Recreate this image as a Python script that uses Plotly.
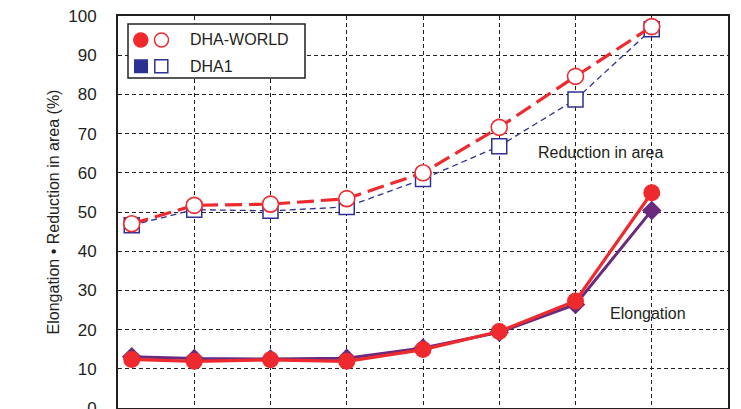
import plotly.graph_objects as go

# x positions (test conditions; axis labels not visible in the reference)
x_pos = [0.18, 1, 2, 3, 4, 5, 6, 7]

ra_world = [47.0, 51.7, 52.0, 53.4, 60.0, 71.6, 84.6, 97.3]
ra_dha1 = [46.6, 50.6, 50.3, 51.3, 58.4, 66.8, 78.7, 96.6]
el_world = [12.4, 11.9, 12.3, 11.9, 14.9, 19.5, 27.3, 54.9]
el_dha1 = [13.1, 12.6, 12.5, 12.7, 15.3, 19.3, 26.4, 50.4]

RED = "#EE2A2F"
BLUE = "#2E3192"
PURPLE = "#6A2A7E"
INK = "#231F20"

# page body has an 8px margin; compensate so the plot lands where the reference has it
OFF = 8
L, R_EDGE, T, B_EDGE = 118, 728, 16, 408
W, H = 741 - OFF, 409 - OFF

fig = go.Figure()
fig.add_trace(go.Scatter(x=x_pos, y=ra_dha1, mode="lines+markers",
                         line=dict(color=BLUE, width=1.3, dash="6px,4px"),
                         marker=dict(symbol="square", size=15, color="white",
                                     line=dict(color=BLUE, width=1.5))))
fig.add_trace(go.Scatter(x=x_pos, y=el_dha1, mode="lines+markers",
                         line=dict(color=PURPLE, width=3),
                         marker=dict(symbol="diamond", size=15, color=PURPLE)))
fig.add_trace(go.Scatter(x=x_pos, y=ra_world, mode="lines+markers",
                         line=dict(color=RED, width=3.2, dash="17px,7px"),
                         marker=dict(symbol="circle", size=16, color="white",
                                     line=dict(color=RED, width=1.6))))
fig.add_trace(go.Scatter(x=x_pos, y=el_world, mode="lines+markers",
                         line=dict(color=RED, width=3.2),
                         marker=dict(symbol="circle", size=17, color=RED)))

fig.update_layout(
    width=W, height=H,
    margin=dict(l=L - OFF, r=W - (R_EDGE - OFF), t=T - OFF, b=H - (B_EDGE - OFF), autoexpand=False),
    plot_bgcolor="white", paper_bgcolor="white",
    showlegend=False,
    font=dict(family="Liberation Sans, Arial, sans-serif", color=INK),
)
fig.update_xaxes(range=[0, 8], dtick=1, tick0=0, showticklabels=False,
                 showgrid=True, gridcolor=INK, griddash="4px,3px", gridwidth=1.4,
                 showline=True, linecolor=INK, linewidth=2, mirror=True,
                 zeroline=False)
fig.update_yaxes(range=[0, 100], dtick=10, tick0=0,
                 showgrid=True, gridcolor=INK, griddash="4px,3px", gridwidth=1.4,
                 showline=True, linecolor=INK, linewidth=2, mirror=True,
                 zeroline=False, ticklabelstandoff=16, ticklabeloverflow="allow",
                 tickfont=dict(size=17),
                 title=dict(text="Elongation • Reduction in area (%)", font=dict(size=16),
                            standoff=5))

PW, PH = R_EDGE - L, B_EDGE - T

def px(x):
    return (x - L) / PW

def py(y):
    return (B_EDGE - y) / PH

# legend box
fig.add_shape(type="rect", xref="paper", yref="paper",
              x0=px(128), x1=px(305), y0=py(78), y1=py(24),
              line=dict(color=INK, width=1.5), fillcolor="white", layer="above")

def sym(kind, cx, cy, size, filled, color):
    h = size / 2
    fig.add_shape(type=kind, xref="paper", yref="paper",
                  xsizemode="pixel", ysizemode="pixel",
                  xanchor=px(cx), yanchor=py(cy),
                  x0=-h, x1=h, y0=-h, y1=h,
                  line=dict(color=color, width=1.5),
                  fillcolor=color if filled else "white", layer="above")

sym("circle", 140.8, 40, 14, True, RED)
sym("circle", 161.5, 40, 14, False, RED)
sym("rect", 141, 66.3, 12.5, True, BLUE)
sym("rect", 161.3, 66.3, 13, False, BLUE)

fig.add_annotation(x=px(188), y=py(40), xref="paper", yref="paper", text="DHA-WORLD",
                   xanchor="left", yanchor="middle", showarrow=False, font=dict(size=16))
fig.add_annotation(x=px(188), y=py(66.5), xref="paper", yref="paper", text="DHA1",
                   xanchor="left", yanchor="middle", showarrow=False, font=dict(size=16))

fig.add_annotation(x=px(601), y=py(152), xref="paper", yref="paper", text="Reduction in area",
                   xanchor="center", yanchor="middle", showarrow=False, font=dict(size=16))
fig.add_annotation(x=px(648), y=py(313), xref="paper", yref="paper", text="Elongation",
                   xanchor="center", yanchor="middle", showarrow=False, font=dict(size=16))

fig.write_html("out.html")
